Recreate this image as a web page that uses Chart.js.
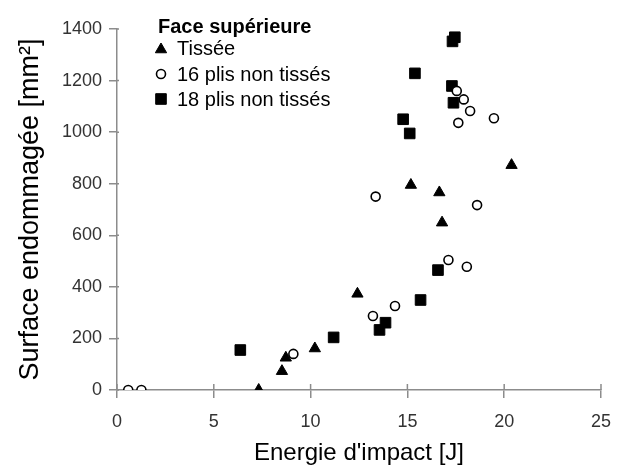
<!DOCTYPE html>
<html>
<head>
<meta charset="utf-8">
<script src="https://cdn.jsdelivr.net/npm/chart.js@4.4.1/dist/chart.umd.min.js"></script>
<style>
  body { margin: 0; background: #fff; }
</style>
</head>
<body>
<canvas id="myChart" width="624" height="468"></canvas>
<script>
const ctx = document.getElementById('myChart');

// Face supérieure, energie [J] vs surface [mm2]
const energyTissee = [7.32, 8.52, 8.72, 10.22, 12.42, 15.18, 16.65, 16.79, 20.38];
const surfaceTissee = [0, 73, 125, 161, 373, 795, 766, 649, 872];

const energy16 = [0.58, 1.26, 9.11, 13.22, 14.36, 13.36, 17.12, 18.07, 18.6, 17.55, 17.91, 18.24, 17.63, 19.47];
const surface16 = [0, 0, 140, 287, 326, 750, 504, 478, 717, 1160, 1127, 1082, 1036, 1054];

const energy18 = [6.37, 11.19, 13.56, 13.87, 15.68, 16.58, 14.78, 15.12, 15.39, 17.3, 17.38, 17.33, 17.45];
const surface18 = [155, 204, 233, 261, 349, 465, 1050, 995, 1228, 1179, 1114, 1352, 1368];

const xTicks = [0, 5, 10, 15, 20, 25];
const yTicks = [0, 200, 400, 600, 800, 1000, 1200, 1400];

const legendTitle = 'Face supérieure';
const axisGrey = '#8c8c8c';

function toPoints(xs, ys) {
  return xs.map((x, i) => ({x: x, y: ys[i]}));
}

function drawMarker(c, style, x, y, r, fill, stroke, lw) {
  c.save();
  c.beginPath();
  if (style === 'triangle') {
    c.moveTo(x, y - r);
    c.lineTo(x + r * Math.sin(2 * Math.PI / 3), y + r / 2);
    c.lineTo(x - r * Math.sin(2 * Math.PI / 3), y + r / 2);
    c.closePath();
  } else if (style === 'rect') {
    const s = r * Math.SQRT1_2;
    c.rect(x - s, y - s, 2 * s, 2 * s);
  } else {
    c.arc(x, y, r, 0, Math.PI * 2);
  }
  c.fillStyle = fill;
  c.fill();
  c.lineWidth = lw;
  c.strokeStyle = stroke;
  c.stroke();
  c.restore();
}

// legend drawn inside the plot, top left
const insideLegend = {
  id: 'insideLegend',
  afterDraw(chart) {
    const c = chart.ctx;
    c.save();
    c.fillStyle = '#000';
    c.textBaseline = 'alphabetic';
    c.font = 'bold 20px "Liberation Sans", Arial, sans-serif';
    c.fillText(legendTitle, 158, 33);
    const rows = [55, 81, 106];
    c.font = '20px "Liberation Sans", Arial, sans-serif';
    chart.data.datasets.forEach((ds, i) => {
      const cy = rows[i] - 7;
      drawMarker(c, ds.pointStyle, 161, ds.pointStyle === 'triangle' ? cy + 1.5 : cy,
        ds.pointRadius, ds.backgroundColor, ds.borderColor, ds.borderWidth);
      c.fillText(ds.label, 177, rows[i]);
    });
    c.restore();
  }
};

// tick marks crossing the axis lines (inner half)
const innerTicks = {
  id: 'innerTicks',
  afterDraw(chart) {
    const c = chart.ctx;
    const xs = chart.scales.x;
    const ys = chart.scales.y;
    const area = chart.chartArea;
    c.save();
    c.strokeStyle = axisGrey;
    c.lineWidth = 1.5;
    c.beginPath();
    xTicks.forEach(v => {
      const px = xs.getPixelForValue(v);
      c.moveTo(px, area.bottom);
      c.lineTo(px, area.bottom - 6);
    });
    yTicks.forEach(v => {
      const py = ys.getPixelForValue(v);
      c.moveTo(area.left, py);
      c.lineTo(area.left + 2, py);
    });
    c.stroke();
    c.restore();
  }
};

new Chart(ctx, {
  type: 'scatter',
  data: {
    datasets: [
      {
        label: 'Tissée',
        data: toPoints(energyTissee, surfaceTissee),
        pointStyle: 'triangle',
        pointRadius: 6.5,
        backgroundColor: '#000',
        borderColor: '#000',
        borderWidth: 1
      },
      {
        label: '16 plis non tissés',
        data: toPoints(energy16, surface16),
        pointStyle: 'circle',
        pointRadius: 4.5,
        backgroundColor: '#fff',
        borderColor: '#000',
        borderWidth: 1.6
      },
      {
        label: '18 plis non tissés',
        data: toPoints(energy18, surface18),
        pointStyle: 'rect',
        pointRadius: 7.5,
        backgroundColor: '#000',
        borderColor: '#000',
        borderWidth: 1
      }
    ]
  },
  options: {
    responsive: false,
    animation: false,
    layout: {
      padding: {top: 29, right: 16, bottom: 0, left: 0}
    },
    plugins: {
      legend: {display: false},
      tooltip: {enabled: false}
    },
    scales: {
      x: {
        type: 'linear',
        min: 0,
        max: 25,
        afterFit(scale) { scale.height = 78; },
        afterBuildTicks(scale) { scale.ticks = xTicks.map(v => ({value: v})); },
        ticks: {
          color: '#333',
          padding: 13,
          callback: v => String(v),
          font: {size: 18, family: '"Liberation Sans", Arial, sans-serif'}
        },
        grid: {
          drawOnChartArea: false,
          tickLength: 8,
          color: axisGrey,
          lineWidth: 1.5
        },
        border: {color: axisGrey, width: 1.5},
        title: {
          display: true,
          text: "Energie d'impact [J]",
          color: '#000',
          padding: {top: 0, bottom: 0},
          font: {size: 24, family: '"Liberation Sans", Arial, sans-serif'}
        }
      },
      y: {
        min: 0,
        max: 1400,
        afterFit(scale) { scale.width = 117; },
        afterBuildTicks(scale) { scale.ticks = yTicks.map(v => ({value: v})); },
        ticks: {
          color: '#333',
          padding: 7,
          callback: v => String(v),
          font: {size: 18, family: '"Liberation Sans", Arial, sans-serif'}
        },
        grid: {
          drawOnChartArea: false,
          tickLength: 8,
          color: axisGrey,
          lineWidth: 1.5
        },
        border: {color: axisGrey, width: 1.5},
        title: {
          display: true,
          text: 'Surface endommagée [mm²]',
          color: '#000',
          padding: {top: 14, bottom: 0},
          font: {size: 27, family: '"Liberation Sans", Arial, sans-serif'}
        }
      }
    }
  },
  plugins: [insideLegend, innerTicks]
});
</script>
</body>
</html>
